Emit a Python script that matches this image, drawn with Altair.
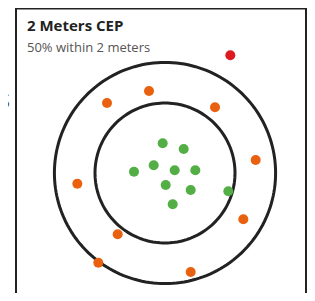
import altair as alt
import numpy as np
import pandas as pd

# ---- data (meters) ----
title_text = "2 Meters CEP"
subtitle_text = "50% within 2 meters"
ring_radii = [2.0, 3.16]

green_x = [-0.066, 0.534, -0.323, -0.886, 0.277, 0.866, 0.020, 0.734, 1.809, 0.220]
green_y = [0.849, 0.686, 0.220, 0.037, 0.077, 0.077, -0.343, -0.486, -0.523, -0.894]
orange_x = [-0.457, -1.657, 1.429, 2.591, -2.505, 2.238, -1.352, -1.905, 0.734]
orange_y = [2.343, 2.000, 1.877, 0.371, -0.306, -1.323, -1.752, -2.562, -2.829]
red_x = [1.866]
red_y = [3.363]

# ---- layout ----
W, H = 299, 285
PXM = 35.0
cx, cy = 157, 165
xdom = [-cx / PXM, (W - cx) / PXM]
ydom = [-(H - cy) / PXM, cy / PXM]

xs = alt.Scale(domain=xdom, nice=False, zero=False)
ys = alt.Scale(domain=ydom, nice=False, zero=False)

# rings
theta = np.deg2rad(np.arange(0, 362, 2))
ring_rows = []
for r in ring_radii:
    for i, t in enumerate(theta):
        ring_rows.append({"ring": str(r), "i": i, "x": r * np.cos(t), "y": r * np.sin(t)})
ring_df = pd.DataFrame(ring_rows)

pts = pd.DataFrame(
    [{"x": x, "y": y, "g": "in"} for x, y in zip(green_x, green_y)]
    + [{"x": x, "y": y, "g": "mid"} for x, y in zip(orange_x, orange_y)]
    + [{"x": x, "y": y, "g": "out"} for x, y in zip(red_x, red_y)]
)

rings = alt.Chart(ring_df).mark_line(color="#222222", strokeWidth=3).encode(
    x=alt.X("x:Q", scale=xs, axis=None),
    y=alt.Y("y:Q", scale=ys, axis=None),
    detail="ring:N",
    order="i:Q",
)

dots = alt.Chart(pts).mark_circle(size=100, opacity=1).encode(
    x=alt.X("x:Q", scale=xs, axis=None),
    y=alt.Y("y:Q", scale=ys, axis=None),
    color=alt.Color(
        "g:N",
        scale=alt.Scale(domain=["in", "mid", "out"], range=["#52ae45", "#e9600f", "#df1a1f"]),
        legend=None,
    ),
)

frame_l = alt.Chart().mark_rule(color="#222222", strokeWidth=2).encode(
    x=alt.value(8), y=alt.value(0), y2=alt.value(H))
frame_r = alt.Chart().mark_rule(color="#222222", strokeWidth=2).encode(
    x=alt.value(W - 1), y=alt.value(0), y2=alt.value(H))
frame_t = alt.Chart().mark_rule(color="#222222", strokeWidth=2).encode(
    x=alt.value(7), x2=alt.value(W), y=alt.value(0.5))

title = alt.Chart().mark_text(
    text=title_text, font="Open Sans", fontSize=15, fontWeight="bold",
    color="#222222", align="left", baseline="alphabetic").encode(
    x=alt.value(19), y=alt.value(23))
subtitle = alt.Chart().mark_text(
    text=subtitle_text, font="Open Sans", fontSize=13,
    color="#555555", align="left", baseline="alphabetic").encode(
    x=alt.value(19), y=alt.value(44))
s_text = alt.Chart().mark_text(
    text="S", font="Open Sans", fontSize=20,
    color="#555555", align="right", baseline="alphabetic").encode(
    x=alt.value(2), y=alt.value(100))

chart = alt.layer(rings, dots, frame_l, frame_r, frame_t, title, subtitle, s_text).properties(
    width=W, height=H,
    autosize=alt.AutoSizeParams(type="none"),
    padding={"left": 0, "top": 0, "right": 0, "bottom": 0},
).configure_view(stroke=None)

chart.save("out.html", embed_options={"renderer": "svg", "actions": False})
